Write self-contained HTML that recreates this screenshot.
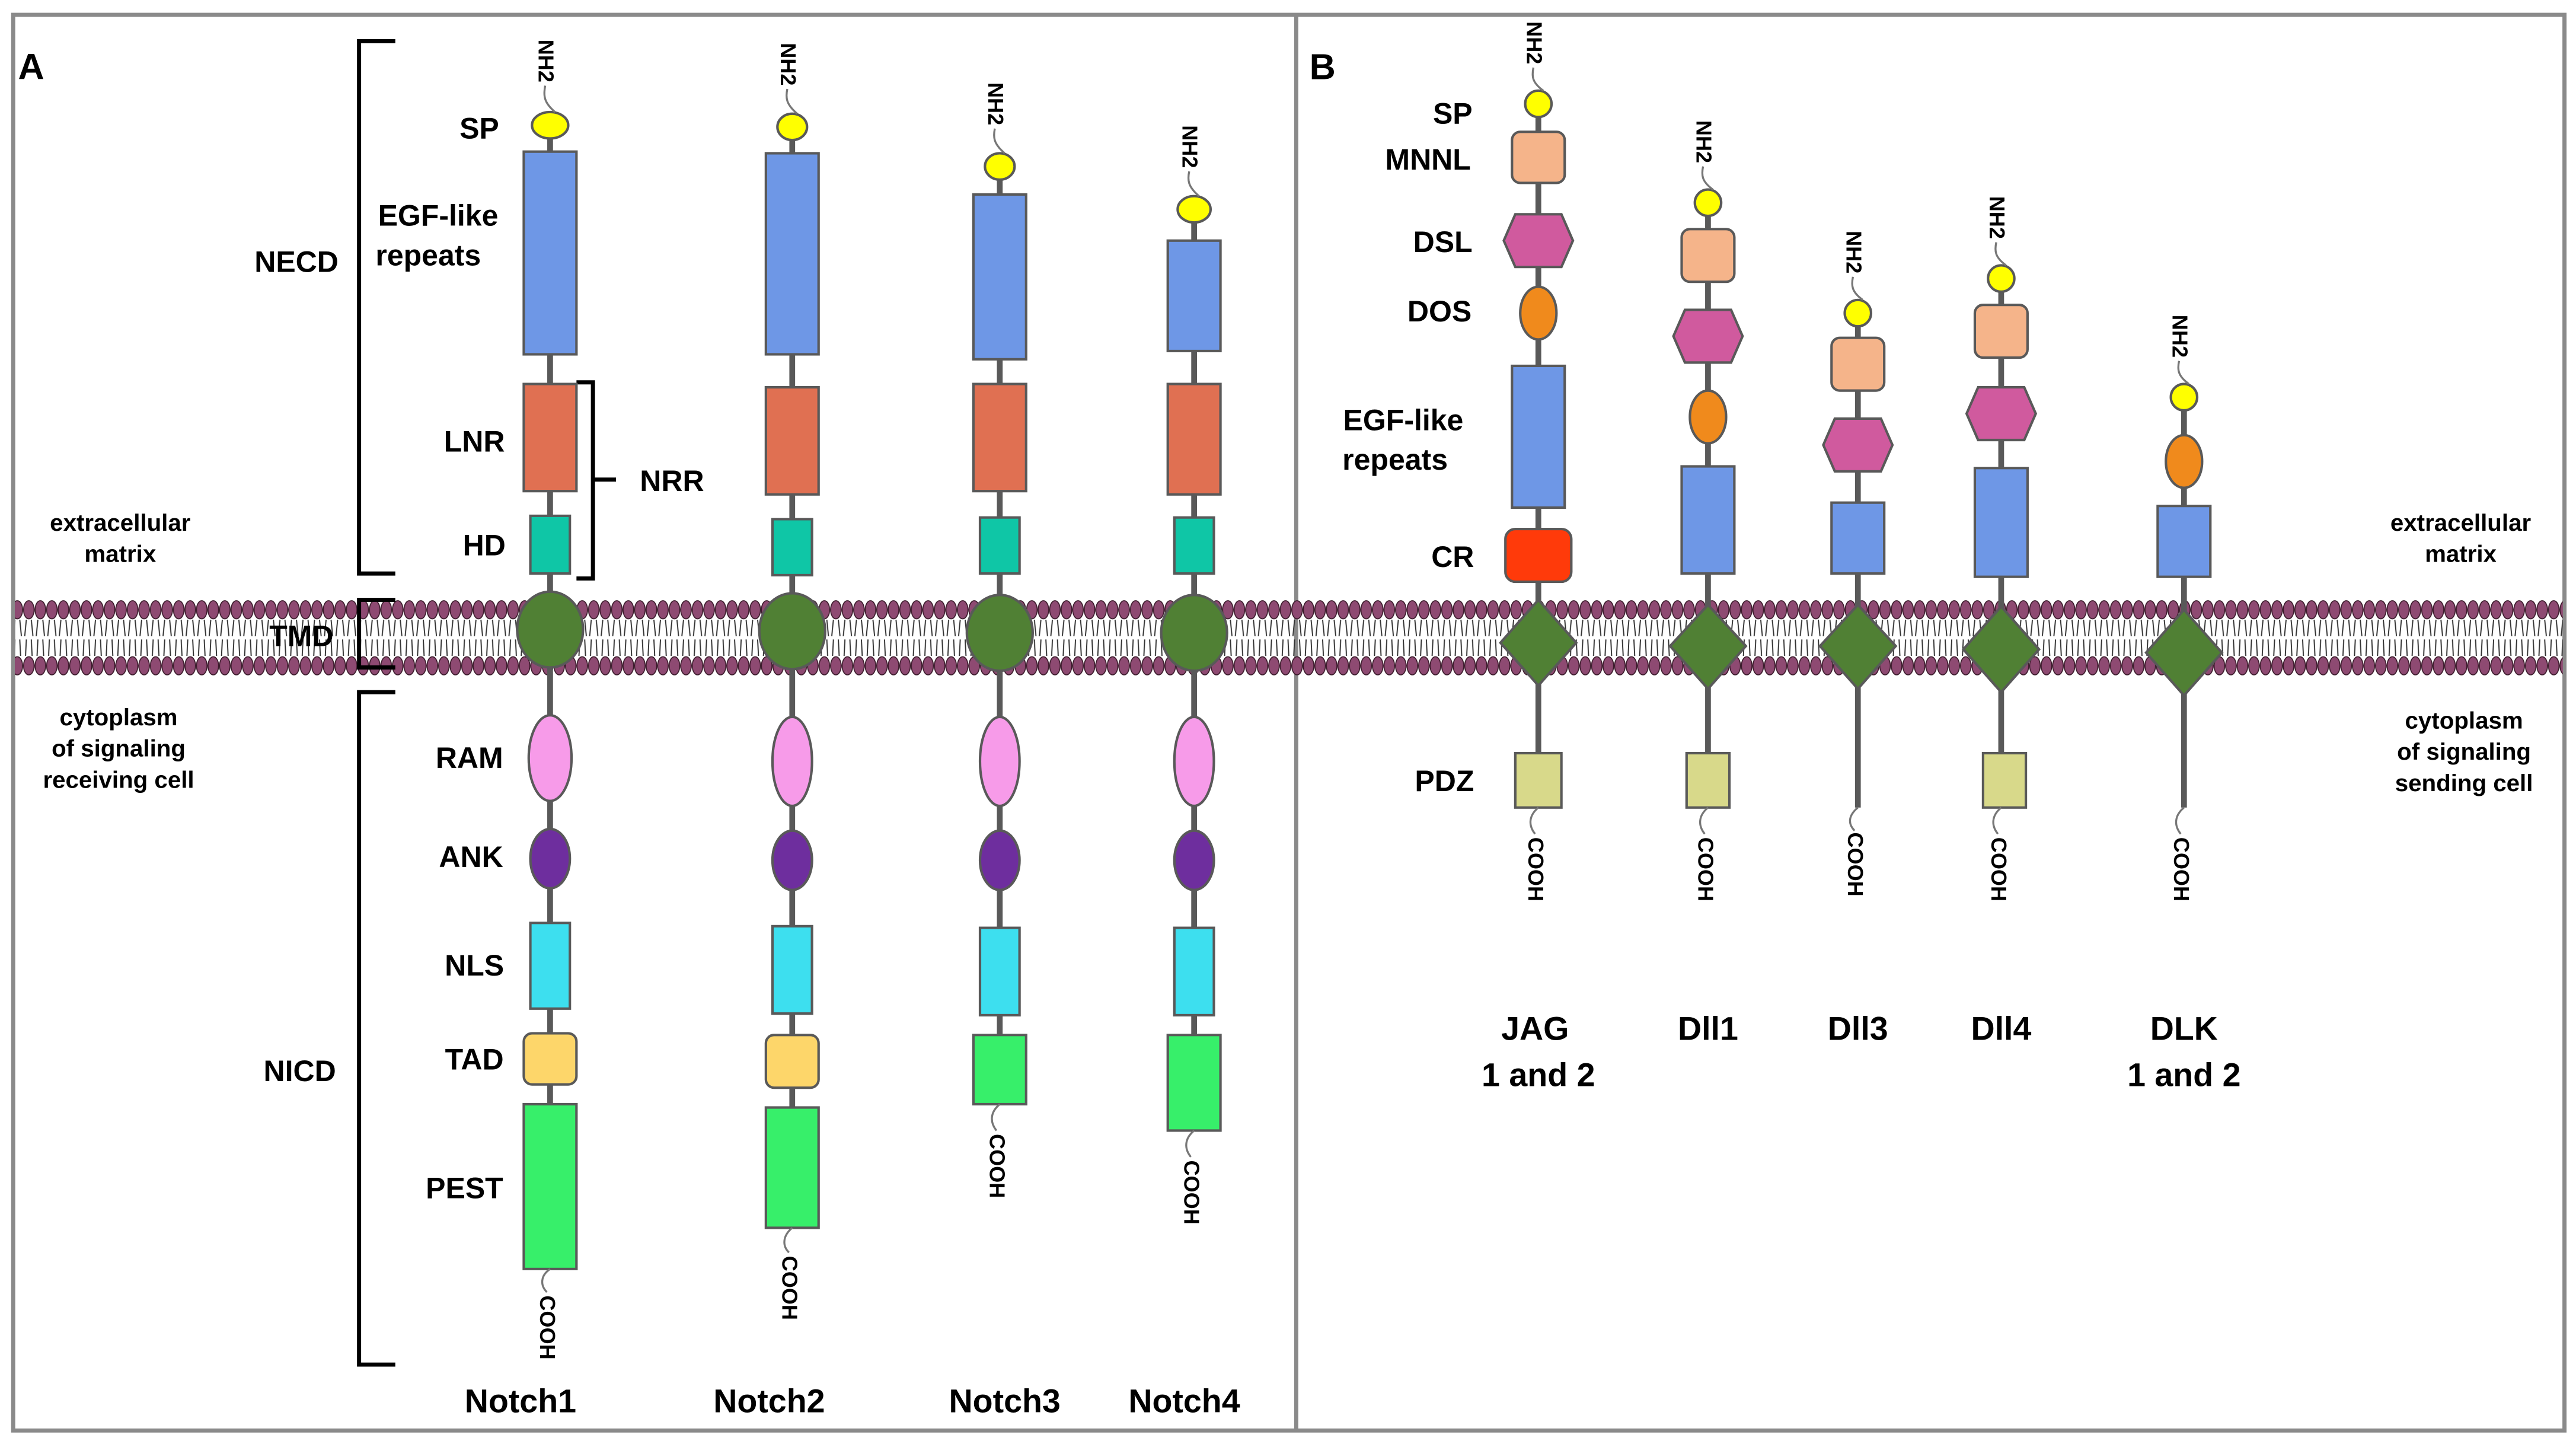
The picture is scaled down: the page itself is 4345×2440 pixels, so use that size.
<!DOCTYPE html>
<html><head><meta charset="utf-8"><style>
html,body{margin:0;padding:0;background:#fff;}
svg{display:block;}
text{font-family:"Liberation Sans",Arial,sans-serif;font-weight:bold;fill:#000;}
</style></head><body>
<svg width="4345" height="2440" viewBox="0 0 1564 878" preserveAspectRatio="none" xmlns="http://www.w3.org/2000/svg">
<defs>
<pattern id="mem" x="0" y="362" width="7" height="50" patternUnits="userSpaceOnUse">
<ellipse cx="3.5" cy="8" rx="3.2" ry="5.5" fill="#8e4a72" stroke="#3a1a2a" stroke-width="0.6"/>
<ellipse cx="3.5" cy="42" rx="3.2" ry="5.5" fill="#8e4a72" stroke="#3a1a2a" stroke-width="0.6"/>
<path d="M2,14 L1,24 M5,14 L6,24 M2,26 L1.5,36 M5,26 L5.5,36" stroke="#333" stroke-width="0.7" fill="none"/>
</pattern>
<g id="nh2"><text font-size="13" transform="rotate(90)">NH2</text></g>
</defs>
<rect x="0" y="0" width="1564" height="878" fill="#fff"/>
<rect x="8" y="9" width="1549" height="859" fill="none" stroke="#8a8a8a" stroke-width="2.5"/>
<line x1="787" y1="9" x2="787" y2="868" stroke="#8a8a8a" stroke-width="2.5"/>
<rect x="9" y="362" width="1547" height="50" fill="url(#mem)"/>

<g stroke="#000" stroke-width="2.5" fill="none">
<path d="M240,25 H218 V348 H240"/>
<path d="M240,364 H218 V405 H240"/>
<path d="M240,420 H218 V828 H240"/>
<path d="M350,232 H360 V351 H350 M360,291 H374"/>
</g>

<g font-size="18">
<text x="11" y="48" font-size="22">A</text>
<text x="795" y="48" font-size="22">B</text>
<text x="291" y="84" text-anchor="middle">SP</text>
<text x="266" y="137" text-anchor="middle">EGF-like</text>
<text x="260" y="161" text-anchor="middle">repeats</text>
<text x="180" y="165" text-anchor="middle">NECD</text>
<text x="288" y="274" text-anchor="middle">LNR</text>
<text x="408" y="298" text-anchor="middle">NRR</text>
<text x="294" y="337" text-anchor="middle">HD</text>
<text x="183" y="392" text-anchor="middle">TMD</text>
<text x="285" y="466" text-anchor="middle">RAM</text>
<text x="286" y="526" text-anchor="middle">ANK</text>
<text x="288" y="592" text-anchor="middle">NLS</text>
<text x="288" y="649" text-anchor="middle">TAD</text>
<text x="182" y="656" text-anchor="middle">NICD</text>
<text x="282" y="727" text-anchor="middle">PEST</text>
<text x="316" y="857" text-anchor="middle" font-size="20">Notch1</text>
<text x="467" y="857" text-anchor="middle" font-size="20">Notch2</text>
<text x="610" y="857" text-anchor="middle" font-size="20">Notch3</text>
<text x="719" y="857" text-anchor="middle" font-size="20">Notch4</text>

<text x="882" y="75" text-anchor="middle">SP</text>
<text x="867" y="103" text-anchor="middle">MNNL</text>
<text x="876" y="153" text-anchor="middle">DSL</text>
<text x="874" y="195" text-anchor="middle">DOS</text>
<text x="852" y="261" text-anchor="middle">EGF-like</text>
<text x="847" y="285" text-anchor="middle">repeats</text>
<text x="882" y="344" text-anchor="middle">CR</text>
<text x="877" y="480" text-anchor="middle">PDZ</text>
<text x="932" y="631" text-anchor="middle" font-size="20">JAG</text>
<text x="934" y="659" text-anchor="middle" font-size="20">1 and 2</text>
<text x="1037" y="631" text-anchor="middle" font-size="20">Dll1</text>
<text x="1128" y="631" text-anchor="middle" font-size="20">Dll3</text>
<text x="1215" y="631" text-anchor="middle" font-size="20">Dll4</text>
<text x="1326" y="631" text-anchor="middle" font-size="20">DLK</text>
<text x="1326" y="659" text-anchor="middle" font-size="20">1 and 2</text>
</g>
<g font-size="14.5" text-anchor="middle">
<text x="73" y="322">extracellular</text>
<text x="73" y="341">matrix</text>
<text x="72" y="440">cytoplasm</text>
<text x="72" y="459">of signaling</text>
<text x="72" y="478">receiving cell</text>
<text x="1494" y="322">extracellular</text>
<text x="1494" y="341">matrix</text>
<text x="1496" y="442">cytoplasm</text>
<text x="1496" y="461">of signaling</text>
<text x="1496" y="480">sending cell</text>
</g>

<!-- Notch backbones -->
<g stroke="#595959" stroke-width="3.5">
<line x1="334" y1="80" x2="334" y2="770"/>
<line x1="481" y1="80" x2="481" y2="745"/>
<line x1="607" y1="105" x2="607" y2="670"/>
<line x1="725" y1="130" x2="725" y2="686"/>
<line x1="934" y1="66" x2="934" y2="458"/>
<line x1="1037" y1="127" x2="1037" y2="458"/>
<line x1="1128" y1="194" x2="1128" y2="490"/>
<line x1="1215" y1="173" x2="1215" y2="458"/>
<line x1="1326" y1="245" x2="1326" y2="490"/>
</g>
<g stroke="#595959" stroke-width="1.5">
<!-- Notch1 -->
<ellipse cx="334" cy="76" rx="11" ry="8" fill="#ffff00"/>
<rect x="318" y="92" width="32" height="123" fill="#6e97e6"/>
<rect x="318" y="233" width="32" height="65" fill="#e07052"/>
<rect x="322" y="313" width="24" height="35" fill="#0fc6a6"/>
<ellipse cx="334" cy="382" rx="20" ry="23" fill="#508034"/>
<ellipse cx="334" cy="460" rx="13" ry="26" fill="#f79be9"/>
<ellipse cx="334" cy="521" rx="12" ry="18" fill="#6e2e9e"/>
<rect x="322" y="560" width="24" height="52" fill="#3ddfef"/>
<rect x="318" y="627" width="32" height="31" rx="5" fill="#fdd66a"/>
<rect x="318" y="670" width="32" height="100" fill="#37ef6a"/>
<!-- Notch2 -->
<ellipse cx="481" cy="77" rx="9" ry="8" fill="#ffff00"/>
<rect x="465" y="93" width="32" height="122" fill="#6e97e6"/>
<rect x="465" y="235" width="32" height="65" fill="#e07052"/>
<rect x="469" y="315" width="24" height="34" fill="#0fc6a6"/>
<ellipse cx="481" cy="383" rx="20" ry="23" fill="#508034"/>
<ellipse cx="481" cy="462" rx="12" ry="27" fill="#f79be9"/>
<ellipse cx="481" cy="522" rx="12" ry="18" fill="#6e2e9e"/>
<rect x="469" y="562" width="24" height="53" fill="#3ddfef"/>
<rect x="465" y="628" width="32" height="32" rx="5" fill="#fdd66a"/>
<rect x="465" y="672" width="32" height="73" fill="#37ef6a"/>
<!-- Notch3 -->
<ellipse cx="607" cy="101" rx="9" ry="8" fill="#ffff00"/>
<rect x="591" y="118" width="32" height="100" fill="#6e97e6"/>
<rect x="591" y="233" width="32" height="65" fill="#e07052"/>
<rect x="595" y="314" width="24" height="34" fill="#0fc6a6"/>
<ellipse cx="607" cy="384" rx="20" ry="23" fill="#508034"/>
<ellipse cx="607" cy="462" rx="12" ry="27" fill="#f79be9"/>
<ellipse cx="607" cy="522" rx="12" ry="18" fill="#6e2e9e"/>
<rect x="595" y="563" width="24" height="53" fill="#3ddfef"/>
<rect x="591" y="628" width="32" height="42" fill="#37ef6a"/>
<!-- Notch4 -->
<ellipse cx="725" cy="127" rx="10" ry="8" fill="#ffff00"/>
<rect x="709" y="146" width="32" height="67" fill="#6e97e6"/>
<rect x="709" y="233" width="32" height="67" fill="#e07052"/>
<rect x="713" y="314" width="24" height="34" fill="#0fc6a6"/>
<ellipse cx="725" cy="384" rx="20" ry="23" fill="#508034"/>
<ellipse cx="725" cy="462" rx="12" ry="27" fill="#f79be9"/>
<ellipse cx="725" cy="522" rx="12" ry="18" fill="#6e2e9e"/>
<rect x="713" y="563" width="24" height="53" fill="#3ddfef"/>
<rect x="709" y="628" width="32" height="58" fill="#37ef6a"/>

<!-- JAG -->
<circle cx="934" cy="63" r="8" fill="#ffff00"/>
<rect x="918" y="80" width="32" height="31" rx="5" fill="#f5b48a"/>
<polygon points="920,130 948,130 955,146 948,162 920,162 913,146" fill="#d05a9e"/>
<ellipse cx="934" cy="190" rx="11" ry="16" fill="#f08a1c"/>
<rect x="918" y="222" width="32" height="86" fill="#6e97e6"/>
<rect x="914" y="321" width="40" height="32" rx="6" fill="#ff3a0a"/>
<polygon points="934,364 957,390 934,416 911,390" fill="#508034"/>
<rect x="920" y="457" width="28" height="33" fill="#d8d98a"/>
<!-- Dll1 -->
<circle cx="1037" cy="123" r="8" fill="#ffff00"/>
<rect x="1021" y="139" width="32" height="32" rx="5" fill="#f5b48a"/>
<polygon points="1023,188 1051,188 1058,204 1051,220 1023,220 1016,204" fill="#d05a9e"/>
<ellipse cx="1037" cy="253" rx="11" ry="16" fill="#f08a1c"/>
<rect x="1021" y="283" width="32" height="65" fill="#6e97e6"/>
<polygon points="1037,367 1060,392 1037,418 1014,392" fill="#508034"/>
<rect x="1024" y="457" width="26" height="33" fill="#d8d98a"/>
<!-- Dll3 -->
<circle cx="1128" cy="190" r="8" fill="#ffff00"/>
<rect x="1112" y="205" width="32" height="32" rx="5" fill="#f5b48a"/>
<polygon points="1114,254 1142,254 1149,270 1142,286 1114,286 1107,270" fill="#d05a9e"/>
<rect x="1112" y="305" width="32" height="43" fill="#6e97e6"/>
<polygon points="1128,367 1151,392 1128,418 1105,392" fill="#508034"/>
<!-- Dll4 -->
<circle cx="1215" cy="169" r="8" fill="#ffff00"/>
<rect x="1199" y="185" width="32" height="32" rx="5" fill="#f5b48a"/>
<polygon points="1201,235 1229,235 1236,251 1229,267 1201,267 1194,251" fill="#d05a9e"/>
<rect x="1199" y="284" width="32" height="66" fill="#6e97e6"/>
<polygon points="1215,368 1238,394 1215,420 1192,394" fill="#508034"/>
<rect x="1204" y="457" width="26" height="33" fill="#d8d98a"/>
<!-- DLK -->
<circle cx="1326" cy="241" r="8" fill="#ffff00"/>
<ellipse cx="1326" cy="280" rx="11" ry="16" fill="#f08a1c"/>
<rect x="1310" y="307" width="32" height="43" fill="#6e97e6"/>
<polygon points="1326,370 1349,396 1326,422 1303,396" fill="#508034"/>
</g>

<!-- squiggles -->
<g stroke="#777" stroke-width="1.2" fill="none">
<path d="M337,68 C330,62 330,58 331,52"/>
<path d="M484,69 C477,63 477,59 478,54"/>
<path d="M610,93 C603,87 603,83 604,78"/>
<path d="M728,119 C721,113 721,109 722,104"/>
<path d="M937,55 C930,50 930,46 931,41"/>
<path d="M1040,115 C1033,110 1033,106 1034,101"/>
<path d="M1131,182 C1124,177 1124,173 1125,168"/>
<path d="M1218,161 C1211,156 1211,152 1212,147"/>
<path d="M1329,233 C1322,228 1322,224 1323,219"/>
<path d="M334,770 C328,774 328,780 332,784"/>
<path d="M481,745 C475,750 475,756 479,760"/>
<path d="M607,670 C601,675 601,681 605,686"/>
<path d="M725,686 C719,691 719,697 723,702"/>
<path d="M934,490 C928,495 928,501 932,506"/>
<path d="M1037,490 C1031,495 1031,501 1035,506"/>
<path d="M1128,490 C1122,495 1122,500 1126,504"/>
<path d="M1215,490 C1209,495 1209,501 1213,506"/>
<path d="M1326,490 C1320,495 1320,501 1324,506"/>
</g>

<!-- NH2 labels -->
<g font-size="13">
<text transform="translate(327,24) rotate(90)">NH2</text>
<text transform="translate(474,26) rotate(90)">NH2</text>
<text transform="translate(600,50) rotate(90)">NH2</text>
<text transform="translate(718,76) rotate(90)">NH2</text>
<text transform="translate(927,13) rotate(90)">NH2</text>
<text transform="translate(1030,73) rotate(90)">NH2</text>
<text transform="translate(1121,140) rotate(90)">NH2</text>
<text transform="translate(1208,119) rotate(90)">NH2</text>
<text transform="translate(1319,191) rotate(90)">NH2</text>
<text transform="translate(328,786) rotate(90)">COOH</text>
<text transform="translate(475,762) rotate(90)">COOH</text>
<text transform="translate(601,688) rotate(90)">COOH</text>
<text transform="translate(719,704) rotate(90)">COOH</text>
<text transform="translate(928,508) rotate(90)">COOH</text>
<text transform="translate(1031,508) rotate(90)">COOH</text>
<text transform="translate(1122,505) rotate(90)">COOH</text>
<text transform="translate(1209,508) rotate(90)">COOH</text>
<text transform="translate(1320,508) rotate(90)">COOH</text>
</g>
</svg>
</body></html>
